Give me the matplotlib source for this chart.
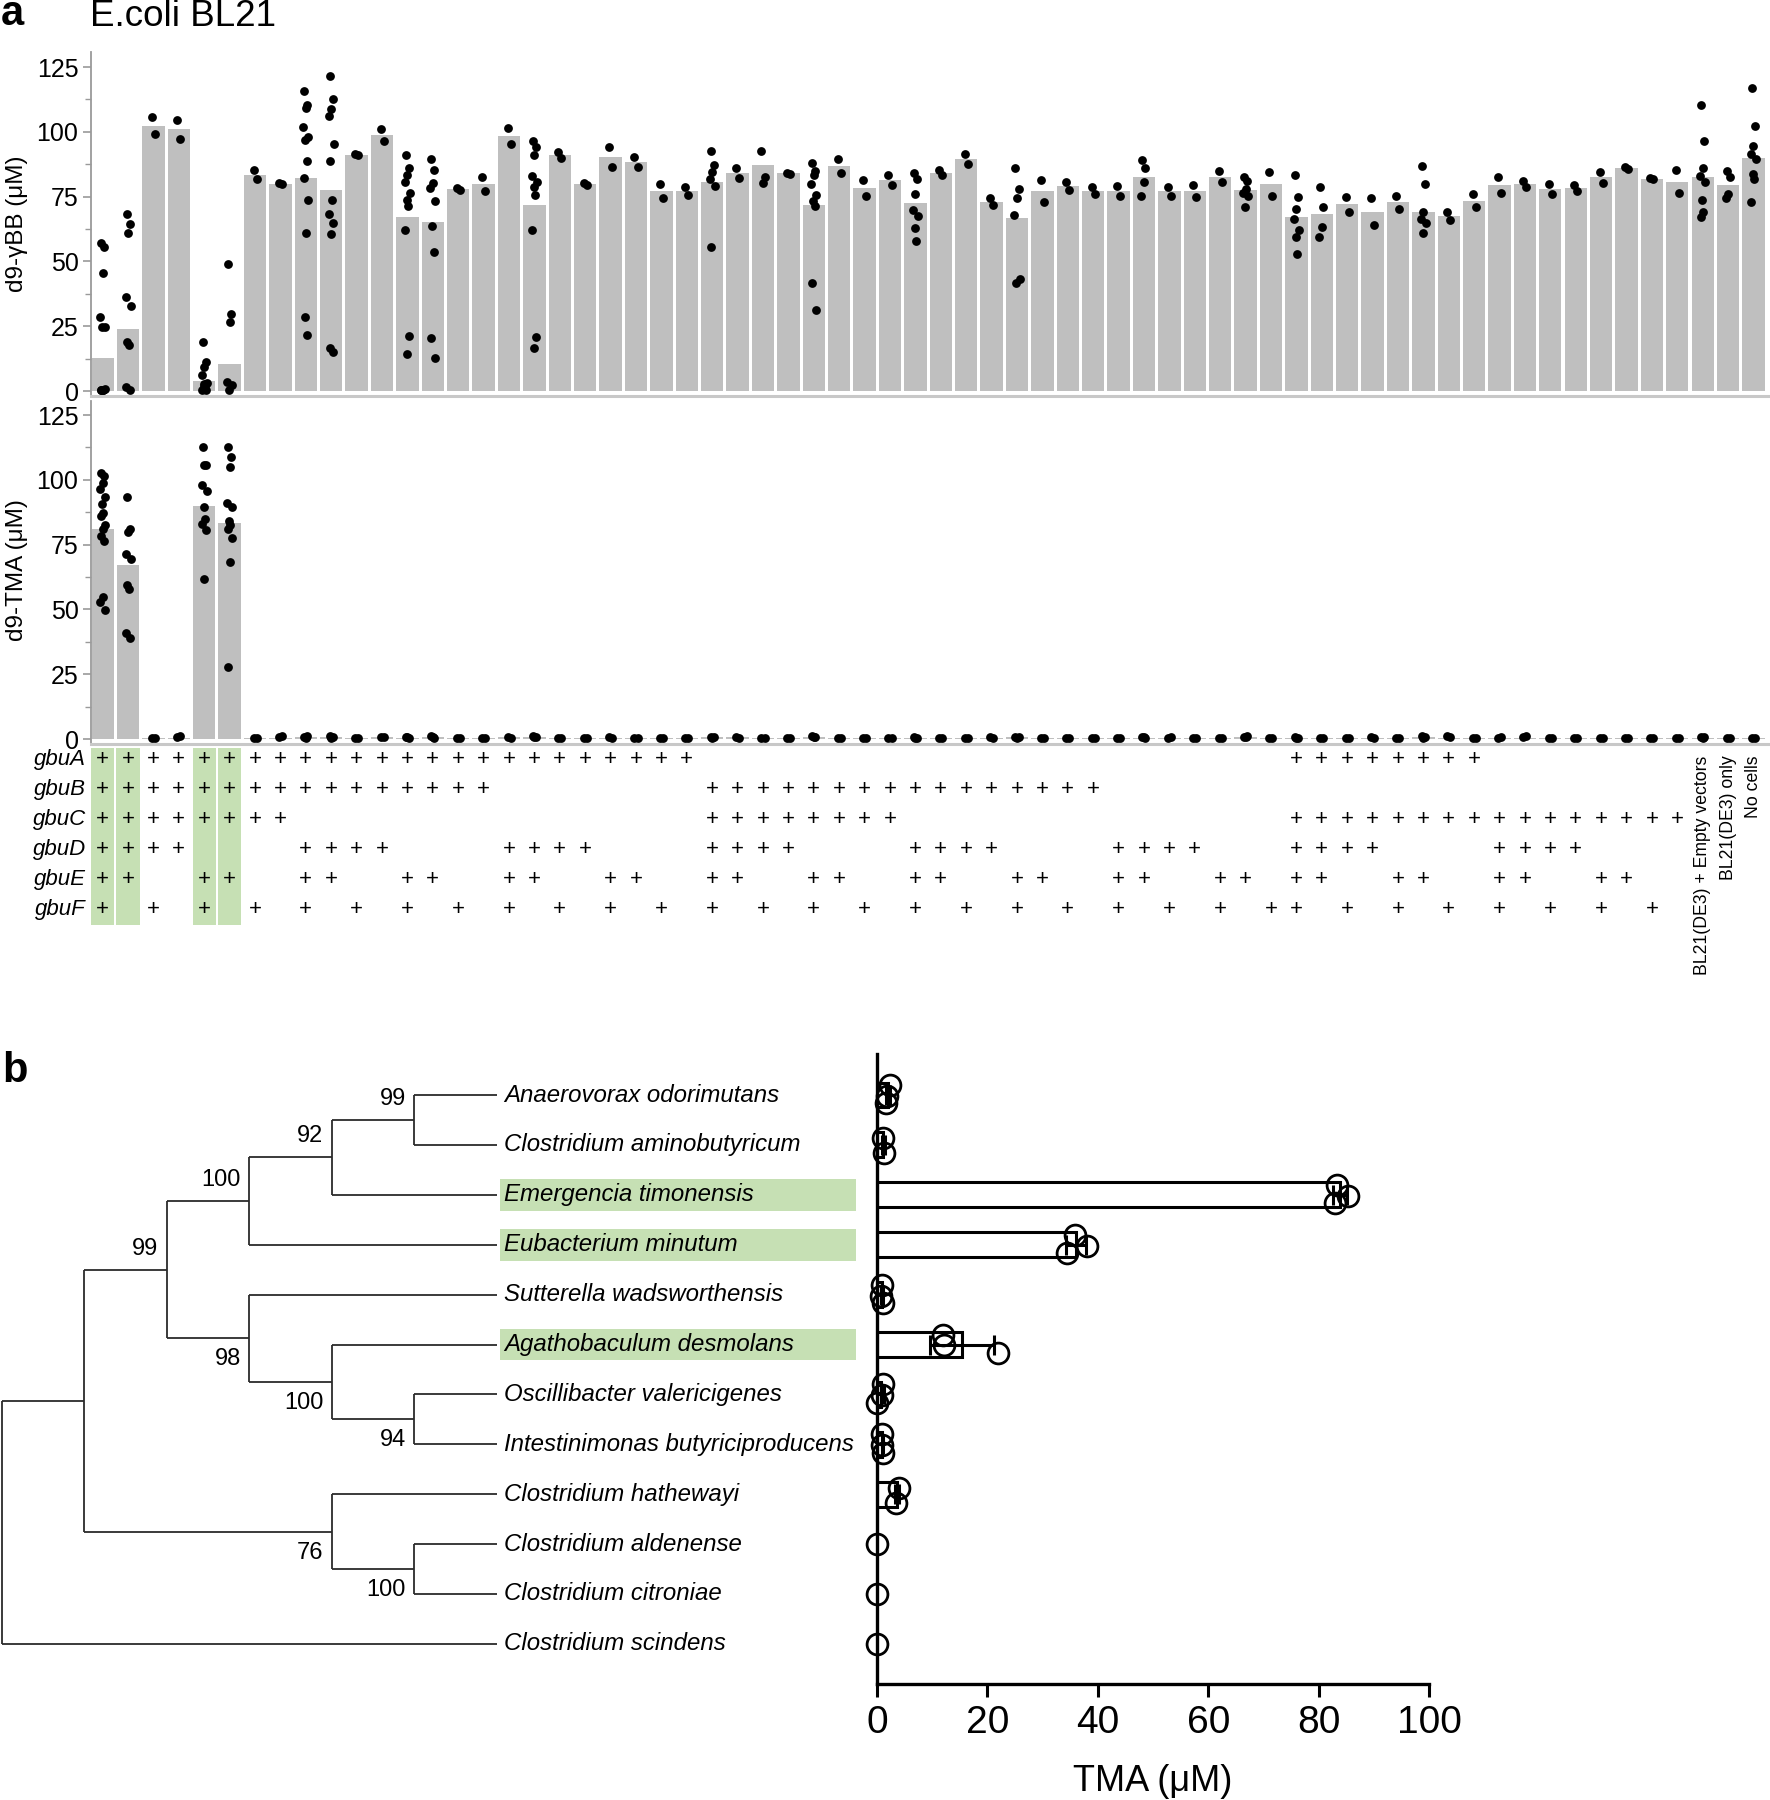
import numpy as np
import matplotlib
matplotlib.use('Agg')
import matplotlib.pyplot as plt
from matplotlib.patches import Rectangle

plt.rcParams['font.family'] = ['Liberation Sans', 'DejaVu Sans']

# ---------- data: panel a ----------
genes = ['gbuA', 'gbuB', 'gbuC', 'gbuD', 'gbuE', 'gbuF']
col_genes = ["ABCDEF", "ABCDE", "ABCDF", "ABCD", "ABCEF", "ABCE", "ABCF", "ABC",
             "ABDEF", "ABDE", "ABDF", "ABD", "ABEF", "ABE", "ABF", "AB",
             "ADEF", "ADE", "ADF", "AD", "AEF", "AE", "AF", "A",
             "BCDEF", "BCDE", "BCDF", "BCD", "BCEF", "BCE", "BCF", "BC",
             "BDEF", "BDE", "BDF", "BD", "BEF", "BE", "BF", "B",
             "DEF", "DE", "DF", "D", "EF", "E", "F",
             "ACDEF", "ACDE", "ACDF", "ACD", "ACEF", "ACE", "ACF", "AC",
             "CDEF", "CDE", "CDF", "CD", "CEF", "CE", "CF", "C",
             "", "", ""]
control_labels = ["BL21(DE3) + Empty vectors", "BL21(DE3) only", "No cells"]
active_cols = [0, 1, 4, 5]

gbb_bar = [12.7, 24.0, 102.4, 101.0, 4.0, 10.3, 83.5, 79.9, 82.3, 77.7,
           91.2, 98.8, 67.0, 65.3, 78.0, 79.8, 98.5, 71.9, 91.0, 79.9,
           90.4, 88.4, 77.2, 77.1, 80.8, 84.1, 87.1, 84.0, 71.9, 87.0,
           78.3, 81.3, 72.7, 84.2, 89.5, 73.1, 66.7, 77.3, 79.2, 77.2,
           77.2, 82.7, 77.0, 77.1, 82.7, 77.4, 79.9, 67.3, 68.5, 72.0,
           69.1, 72.8, 68.9, 67.5, 73.4, 79.6, 79.8, 77.9, 78.4, 82.4,
           86.1, 81.9, 80.8, 82.4, 79.5, 89.9]

gbb_pts = [
    [57.0, 55.7, 45.6, 28.7, 24.8, 24.9, 0.6, 0.3, 0.8, 0.4, 0.5],
    [68.4, 64.3, 61.0, 36.2, 32.7, 19.0, 17.7, 1.6, 0.4],
    [105.7, 99.0], [104.7, 97.4],
    [18.9, 11.1, 9.1, 6.1, 3.2, 2.6, 1.0, 0.4, 0.5, 2.0],
    [48.9, 29.6, 26.6, 3.4, 2.5, 0.6],
    [85.3, 81.7], [80.1, 79.7],
    [115.6, 110.2, 109.3, 101.9, 98.1, 96.9, 88.9, 82.2, 73.6, 60.9, 28.7, 21.5],
    [121.6, 112.6, 108.9, 106.0, 95.5, 88.9, 73.6, 68.5, 65.0, 60.4, 16.7, 15.2],
    [91.3, 91.1], [101.2, 96.5],
    [90.9, 85.9, 83.3, 80.8, 76.4, 73.7, 71.4, 62.3, 21.1, 14.2],
    [89.4, 85.1, 80.3, 78.5, 73.4, 63.7, 53.6, 20.6, 12.8],
    [78.3, 77.7], [82.4, 77.1], [101.6, 95.5],
    [96.4, 94.1, 90.9, 82.8, 80.7, 78.8, 75.6, 62.3, 20.9, 16.8],
    [92.1, 89.9], [80.2, 79.6], [94.3, 86.5], [90.2, 86.6], [79.9, 74.6], [78.8, 75.5],
    [92.8, 87.1, 84.7, 81.9, 79.0, 55.5],
    [86.1, 82.1], [92.7, 82.7, 80.4], [84.2, 83.8],
    [87.9, 85.0, 83.2, 80.0, 75.6, 73.4, 71.3, 41.5, 31.3],
    [89.7, 84.2], [81.6, 75.1], [83.2, 79.4],
    [84.0, 81.7, 76.0, 70.0, 67.4, 62.9, 58.0],
    [85.2, 83.2], [91.4, 87.6], [74.5, 71.7],
    [85.9, 77.8, 74.3, 68.0, 43.3, 41.8],
    [81.6, 73.1], [80.8, 77.6], [78.6, 75.9], [79.3, 75.1],
    [89.0, 86.0, 80.8, 75.1],
    [78.9, 75.1], [79.6, 74.7], [84.9, 80.5],
    [82.5, 81.0, 78.1, 76.5, 75.2, 71.0],
    [84.6, 75.2],
    [83.5, 74.9, 70.1, 66.2, 62.2, 59.5, 52.8],
    [78.7, 71.1, 63.2, 59.4],
    [74.9, 69.1], [74.4, 63.9], [75.4, 70.1],
    [86.8, 79.7, 68.9, 66.5, 64.8, 60.8],
    [68.9, 66.1], [75.9, 70.9], [82.7, 76.6], [80.9, 78.7], [80.0, 75.9],
    [79.6, 77.1], [84.4, 80.3], [86.6, 85.6], [82.1, 81.7], [85.2, 76.5],
    [110.5, 96.5, 86.0, 83.0, 80.6, 73.9, 69.2, 67.1],
    [85.0, 82.5, 76.2, 74.3],
    [117.0, 102.4, 94.4, 91.4, 89.5, 83.9, 81.9, 72.8],
]

tma_bar = [81.2, 67.2, 0.3, 0.6, 90.0, 83.4, 0.4, 0.6, 0.8, 0.9,
           0.5, 0.7, 0.6, 0.8, 0.5, 0.4, 0.7, 0.9, 0.5, 0.4,
           0.6, 0.5, 0.4, 0.4, 0.8, 0.7, 0.5, 0.4, 0.9, 0.5,
           0.6, 0.5, 0.6, 0.4, 0.5, 0.6, 0.8, 0.5, 0.4, 0.4,
           0.5, 0.6, 0.6, 0.5, 0.4, 0.7, 0.6, 0.6, 0.5, 0.4,
           0.6, 0.5, 0.7, 0.5, 0.4, 0.6, 0.5, 0.4, 0.5, 0.5,
           0.4, 0.5, 0.4, 0.6, 0.5, 0.5]

tma_pts = [
    [102.8, 101.4, 98.6, 96.5, 93.2, 90.6, 87.3, 86.1, 82.7, 81.2, 78.3, 76.4, 54.9, 53.0, 49.8],
    [93.4, 81.2, 80.0, 71.5, 69.5, 59.3, 58.0, 40.9, 38.8],
    [0.3, 0.4], [0.8, 1.1],
    [112.5, 105.8, 105.6, 98.0, 95.7, 89.4, 84.9, 82.8, 80.6, 61.9],
    [112.8, 108.7, 104.9, 91.0, 89.7, 84.0, 82.4, 80.9, 77.4, 68.2, 27.9],
    [0.5, 0.6], [0.7, 1.2], [0.9, 1.3, 0.6], [1.2, 0.8, 0.5],
    [0.6, 0.5], [0.8, 0.7], [0.7, 0.5, 0.9], [1.0, 0.6, 0.7],
    [0.4, 0.5], [0.4, 0.5], [0.9, 0.6], [1.1, 0.7, 0.9],
    [0.5, 0.6], [0.4, 0.4], [0.7, 0.5], [0.6, 0.5],
    [0.4, 0.5], [0.4, 0.4], [0.9, 0.8, 0.6], [0.8, 0.6],
    [0.6, 0.4], [0.4, 0.5], [1.3, 0.9, 0.7], [0.5, 0.6],
    [0.6, 0.5], [0.5, 0.6], [0.8, 0.6, 0.5], [0.4, 0.5],
    [0.5, 0.6], [0.7, 0.6], [0.9, 0.7, 0.6], [0.5, 0.6],
    [0.4, 0.5], [0.4, 0.5], [0.6, 0.5], [0.8, 0.6, 0.7],
    [0.6, 0.7], [0.5, 0.6], [0.4, 0.5], [0.7, 1.0, 0.8],
    [0.6, 0.5], [0.8, 0.6, 0.5], [0.5, 0.6], [0.4, 0.5],
    [0.7, 0.4], [0.6, 0.5], [1.2, 0.9, 0.6], [1.1, 0.7],
    [0.4, 0.5], [0.6, 0.7], [0.7, 1.0], [0.4, 0.5],
    [0.5, 0.6], [0.6, 0.4], [0.4, 0.5], [0.6, 0.5],
    [0.4, 0.5], [0.7, 0.8, 0.6], [0.5, 0.6], [0.4, 0.5],
]

# ---------- data: panel b ----------
species = ["Anaerovorax odorimutans", "Clostridium aminobutyricum",
           "Emergencia timonensis", "Eubacterium minutum",
           "Sutterella wadsworthensis", "Agathobaculum desmolans",
           "Oscillibacter valericigenes", "Intestinimonas butyriciproducens",
           "Clostridium hathewayi", "Clostridium aldenense",
           "Clostridium citroniae", "Clostridium scindens"]
highlight_species = [2, 3, 5]
# (bootstrap, upper child, lower child); ints are leaf indices
tree = (None,
        (None,
         (99, (100, (92, (99, 0, 1), 2), 3),
              (98, 4, (100, 5, (94, 6, 7)))),
         (76, 8, (100, 9, 10))),
        11)
tma_b = [[2.4, 1.8, 1.7], [1.0, 1.3], [83.4, 85.3, 83.0], [35.8, 38.0, 34.4],
         [0.9, 0.8, 1.0], [12.0, 12.2, 22.0], [1.1, 0.9, 0.0], [0.9, 0.9, 1.1],
         [3.9, 3.4], [0.0], [0.0], [0.0]]

# ---------- figure ----------
W, H = 1770, 1800
fig = plt.figure(figsize=(W / 100, H / 100), dpi=100)


def fx(px):
    return px / W


def fy(px):
    return 1 - px / H


ncol = len(col_genes)
xs = np.arange(ncol)
AX_L = 91
xlim = (-0.46, 65.65)
jit = [-0.06, 0.06, 0.0, -0.1, 0.1, -0.03, 0.03, -0.08, 0.08, 0.0, -0.05, 0.05, 0.0, -0.09, 0.09]
grey_axis = '#9a9a9a'


def bar_panel(rect, bars, pts, ylabel, ylab_y):
    ax = fig.add_axes(rect)
    ax.bar(xs, bars, width=0.88, color='#bfbfbf', edgecolor='none', zorder=1)
    for i, vals in enumerate(pts):
        px = [i + jit[k % len(jit)] for k in range(len(vals))]
        ax.scatter(px, vals, s=40, c='k', linewidths=0, zorder=3, clip_on=False)
    ax.set_xlim(*xlim)
    ax.set_ylim(-1.9, 130.8)
    ax.set_xticks([])
    ax.set_yticks([0, 25, 50, 75, 100, 125])
    ax.set_yticks(np.arange(12.5, 130, 25), minor=True)
    ax.tick_params(axis='y', which='major', length=6, width=1.2, color=grey_axis,
                   labelsize=18, pad=3)
    ax.tick_params(axis='y', which='minor', length=4, width=1.0, color=grey_axis)
    for s in ['top', 'right']:
        ax.spines[s].set_visible(False)
    ax.spines['left'].set_color(grey_axis)
    ax.spines['left'].set_linewidth(1.3)
    ax.spines['bottom'].set_color('#c8c8c8')
    ax.spines['bottom'].set_linewidth(2.2)
    fig.text(fx(17), fy(ylab_y), ylabel, rotation=90, ha='center', va='center', fontsize=17.5)
    return ax


ax_top = bar_panel([fx(AX_L), fy(396), fx(1770 - AX_L), 344 / H], gbb_bar, gbb_pts,
                   'd9-γBB (μM)', 224)
ax_bot = bar_panel([fx(AX_L), fy(744), fx(1770 - AX_L), 344 / H], tma_bar, tma_pts,
                   'd9-TMA (μM)', 570)
ax_bot.spines['left'].set_bounds(-1.9, 130.4)

# gene grid
ax_g = fig.add_axes([fx(AX_L), fy(925), fx(1770 - AX_L), 177 / H])
ax_g.set_xlim(*xlim)
ax_g.set_ylim(5.5, -0.4)
ax_g.axis('off')
for c in active_cols:
    ax_g.add_patch(Rectangle((c - 0.46, -0.4), 0.92, 5.9, color='#c6e0b4', lw=0, zorder=0))
for r, g in enumerate(genes):
    ax_g.text(-0.65, r, g, ha='right', va='center', fontsize=16, style='italic',
              clip_on=False)
    letter = g[-1]
    for c, cg in enumerate(col_genes):
        if letter in cg:
            ax_g.text(c, r, '+', ha='center', va='center', fontsize=16)
for k, lab in enumerate(control_labels):
    ax_g.text(ncol - 3 + k, -0.15, lab, rotation=90, ha='center', va='top',
              fontsize=12.7, clip_on=False)

fig.text(fx(1), fy(25), 'a', fontsize=30, fontweight='bold', ha='left', va='baseline')
fig.text(fx(90), fy(26), 'E.coli BL21', fontsize=26.5, ha='left', va='baseline')

# ---------- panel b ----------
ylim_b = (11.804, -0.822)
unit = 82.7
ax_t = fig.add_axes([0, fy(1684), fx(870), 630 / H])
ax_t.set_xlim(-0.02, 870 / unit)
ax_t.set_ylim(*ylim_b)
ax_t.axis('off')
tree_kw = dict(color='#2b2b2b', lw=1.3, solid_capstyle='butt')


def draw(node):
    if isinstance(node, int):
        return float(node), 0
    sup, a, b = node
    ya, ha = draw(a)
    yb, hb = draw(b)
    h = max(ha, hb) + 1
    x = 6 - h
    ax_t.plot([x, x], [ya, yb], **tree_kw)
    ax_t.plot([x, 6 - ha], [ya, ya], **tree_kw)
    ax_t.plot([x, 6 - hb], [yb, yb], **tree_kw)
    for child, yc, hc, dy in [(a, ya, ha, -0.42), (b, yb, hb, 0.42)]:
        if not isinstance(child, int) and child[0] is not None:
            ax_t.text(6 - hc - 0.1, yc + dy, str(child[0]), ha='right', va='center',
                      fontsize=17)
    return (ya + yb) / 2, h


draw(tree)
for i in highlight_species:
    ax_t.add_patch(Rectangle((499 / unit, i - 0.32), (856 - 499) / unit, 0.64,
                             color='#c6e0b4', lw=0, zorder=0))
for i, sp in enumerate(species):
    ax_t.text(503 / unit, i, sp, ha='left', va='center', fontsize=17.3, style='italic')

fig.text(fx(2), fy(1071), 'b', fontsize=30, fontweight='bold', ha='left', va='center')

ax_b = fig.add_axes([fx(877), fy(1684), fx(1429 - 877), 630 / H])
ax_b.set_xlim(0, 100)
ax_b.set_ylim(*ylim_b)
offs = {1: [0.0], 2: [-0.13, 0.17], 3: [-0.2, 0.02, 0.17]}
for i, vals in enumerate(tma_b):
    m = np.mean(vals)
    sd = np.std(vals, ddof=1) if len(vals) > 1 else 0
    if m > 0:
        ax_b.barh(i, m, height=0.5, color='white', edgecolor='k', lw=2.2, zorder=1)
    if sd > 0:
        ax_b.errorbar(m, i, xerr=sd, fmt='none', ecolor='k', elinewidth=2.2,
                      capsize=7, capthick=2.2, zorder=2)
    o = offs[len(vals)]
    ax_b.plot(vals, [i + d for d in o], 'o', mfc='none', mec='k', ms=15, mew=2,
              zorder=3, clip_on=False)
for s in ['top', 'right']:
    ax_b.spines[s].set_visible(False)
for s in ['left', 'bottom']:
    ax_b.spines[s].set_linewidth(2.4)
    ax_b.spines[s].set_color('k')
ax_b.set_yticks([])
ax_b.set_xticks([0, 20, 40, 60, 80, 100])
ax_b.tick_params(axis='x', length=9, width=2.2, labelsize=28, pad=6)
ax_b.set_xlabel('TMA (μM)', fontsize=26, labelpad=17)

fig.savefig('out.png', dpi=100)
